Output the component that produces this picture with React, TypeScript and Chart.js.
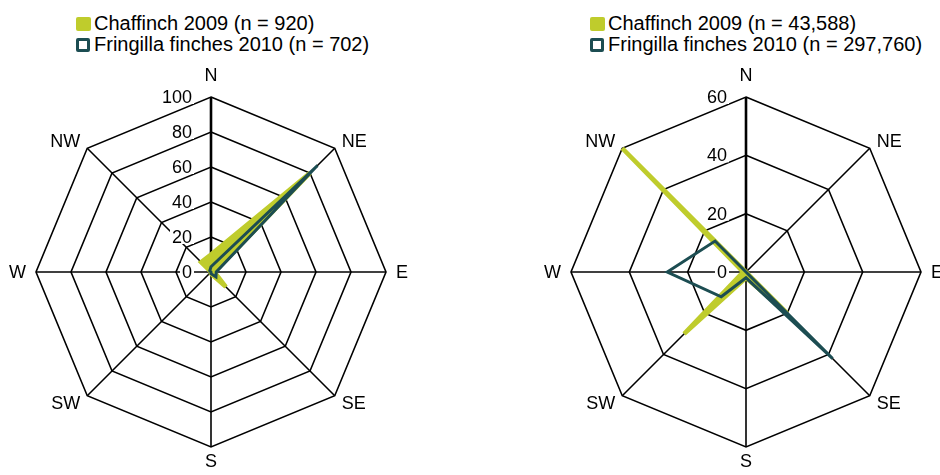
import React, { useEffect, useRef } from 'react';
import { Chart, registerables } from 'chart.js';
Chart.register(...registerables);

const directions = ['N', 'NE', 'E', 'SE', 'S', 'SW', 'W', 'NW'];

// Left panel
const leftLegend = ['Chaffinch 2009 (n = 920)', 'Fringilla finches 2010 (n = 702)'];
const leftChaffinch = [10, 80, 2, 12, 1, 0, 0, 8];
const leftFringilla = [3, 86, 3, 4, 1, 0, 0, 1];
const leftTicks = [0, 20, 40, 60, 80, 100];

// Right panel
const rightLegend = ['Chaffinch 2009 (n = 43,588)', 'Fringilla finches 2010 (n = 297,760)'];
const rightChaffinch = [0, 0, 0, 20, 2, 30, 1, 60];
const rightFringilla = [0, 0, 0, 42, 2, 12, 27, 15];
const rightTicks = [0, 20, 40, 60];

const YELLOW = '#bfcc2c';
const TEAL = '#1c4d52';
const FONT = '"Liberation Sans", Arial, Helvetica, sans-serif';

const labelPlugin = {
  id: 'labelPlugin',
  afterDatasetsDraw(chart: any) {
    const s = chart.scales.r;
    const ctx = chart.ctx;
    ctx.save();
    ctx.font = `18px ${FONT}`;
    // tick labels
    ctx.textAlign = 'right';
    ctx.textBaseline = 'middle';
    s.ticks.forEach((t: any) => {
      const label = String(t.value);
      const d = s.getDistanceFromCenterForValue(t.value);
      const y = s.yCenter - d;
      const x = s.xCenter - 19;
      const w = ctx.measureText(label).width;
      ctx.fillStyle = '#ffffff';
      ctx.fillRect(x - w - 2, y - 7, w + 4, 14);
      ctx.fillStyle = '#000000';
      ctx.fillText(label, x, y + 1);
    });
    // point labels
    ctx.fillStyle = '#000000';
    chart.data.labels.forEach((lab: string, i: number) => {
      const p0 = s.getPointPosition(i, s.drawingArea);
      const dx = p0.x - s.xCenter;
      const dy = p0.y - s.yCenter;
      if (Math.abs(dx) < 1) {
        ctx.textAlign = 'center';
        ctx.textBaseline = 'middle';
        ctx.fillText(lab, p0.x, dy < 0 ? p0.y - 21 : p0.y + 15);
      } else {
        const p = s.getPointPosition(i, s.drawingArea + 10);
        ctx.textAlign = dx > 0 ? 'left' : 'right';
        ctx.textBaseline = 'middle';
        ctx.fillText(lab, p.x, p.y + 1);
      }
    });
    ctx.restore();
  },
};

function Radar(props: {
  legend: string[];
  chaff: number[];
  fring: number[];
  ticks: number[];
  canvasLeft: number;
  legendLeft: number;
}) {
  const ref = useRef<HTMLCanvasElement | null>(null);
  useEffect(() => {
    if (!ref.current) return;
    const tickVals = props.ticks;
    const chart = new Chart(ref.current, {
      type: 'radar',
      data: {
        labels: directions,
        datasets: [
          {
            label: props.legend[0],
            data: props.chaff,
            borderColor: YELLOW,
            backgroundColor: YELLOW,
            borderWidth: 4.5,
            fill: true,
            pointRadius: 0,
            order: 1,
          },
          {
            label: props.legend[1],
            data: props.fring,
            borderColor: TEAL,
            backgroundColor: 'rgba(0,0,0,0)',
            borderWidth: 3,
            fill: false,
            pointRadius: 0,
            order: 0,
          },
        ],
      },
      options: {
        responsive: false,
        animation: false,
        plugins: { legend: { display: false }, tooltip: { enabled: false } },
        layout: { padding: { left: 60, right: 60, top: 32, bottom: 32 } },
        scales: {
          r: {
            min: tickVals[0],
            max: tickVals[tickVals.length - 1],
            afterBuildTicks: (axis: any) => {
              axis.ticks = tickVals.map((v) => ({ value: v }));
            },
            ticks: { display: false },
            grid: { color: '#000000', lineWidth: 1.6 },
            angleLines: {
              color: '#000000',
              lineWidth: (ctx: any) => (ctx.index === 0 ? 2.6 : 1.6),
            },
            pointLabels: { display: false },
          },
        },
      },
      plugins: [labelPlugin],
    } as any);
    return () => chart.destroy();
  }, []);

  return (
    <>
      <div
        style={{
          position: 'absolute',
          left: props.legendLeft,
          top: 13,
          fontFamily: FONT,
          fontSize: 20,
          lineHeight: '21px',
          color: '#000',
          whiteSpace: 'nowrap',
        }}
      >
        <div style={{ display: 'flex', alignItems: 'center' }}>
          <span
            style={{
              display: 'inline-block',
              width: 15,
              height: 14,
              background: YELLOW,
              borderRadius: 2,
              marginRight: 3,
            }}
          />
          <span>{props.legend[0]}</span>
        </div>
        <div style={{ display: 'flex', alignItems: 'center' }}>
          <span
            style={{
              display: 'inline-block',
              width: 8,
              height: 8,
              border: `3px solid ${TEAL}`,
              borderRadius: 2,
              marginRight: 4,
              background: '#fff',
            }}
          />
          <span>{props.legend[1]}</span>
        </div>
      </div>
      <canvas
        ref={ref}
        width={470}
        height={414}
        style={{ position: 'absolute', left: props.canvasLeft, top: 65 }}
      />
    </>
  );
}

export default function App() {
  return (
    <div
      style={{
        position: 'fixed',
        left: 0,
        top: 0,
        width: 940,
        height: 475,
        overflow: 'hidden',
        background: '#ffffff',
      }}
    >
      <Radar
        legend={leftLegend}
        chaff={leftChaffinch}
        fring={leftFringilla}
        ticks={leftTicks}
        canvasLeft={-24}
        legendLeft={76}
      />
      <Radar
        legend={rightLegend}
        chaff={rightChaffinch}
        fring={rightFringilla}
        ticks={rightTicks}
        canvasLeft={511}
        legendLeft={590}
      />
    </div>
  );
}
